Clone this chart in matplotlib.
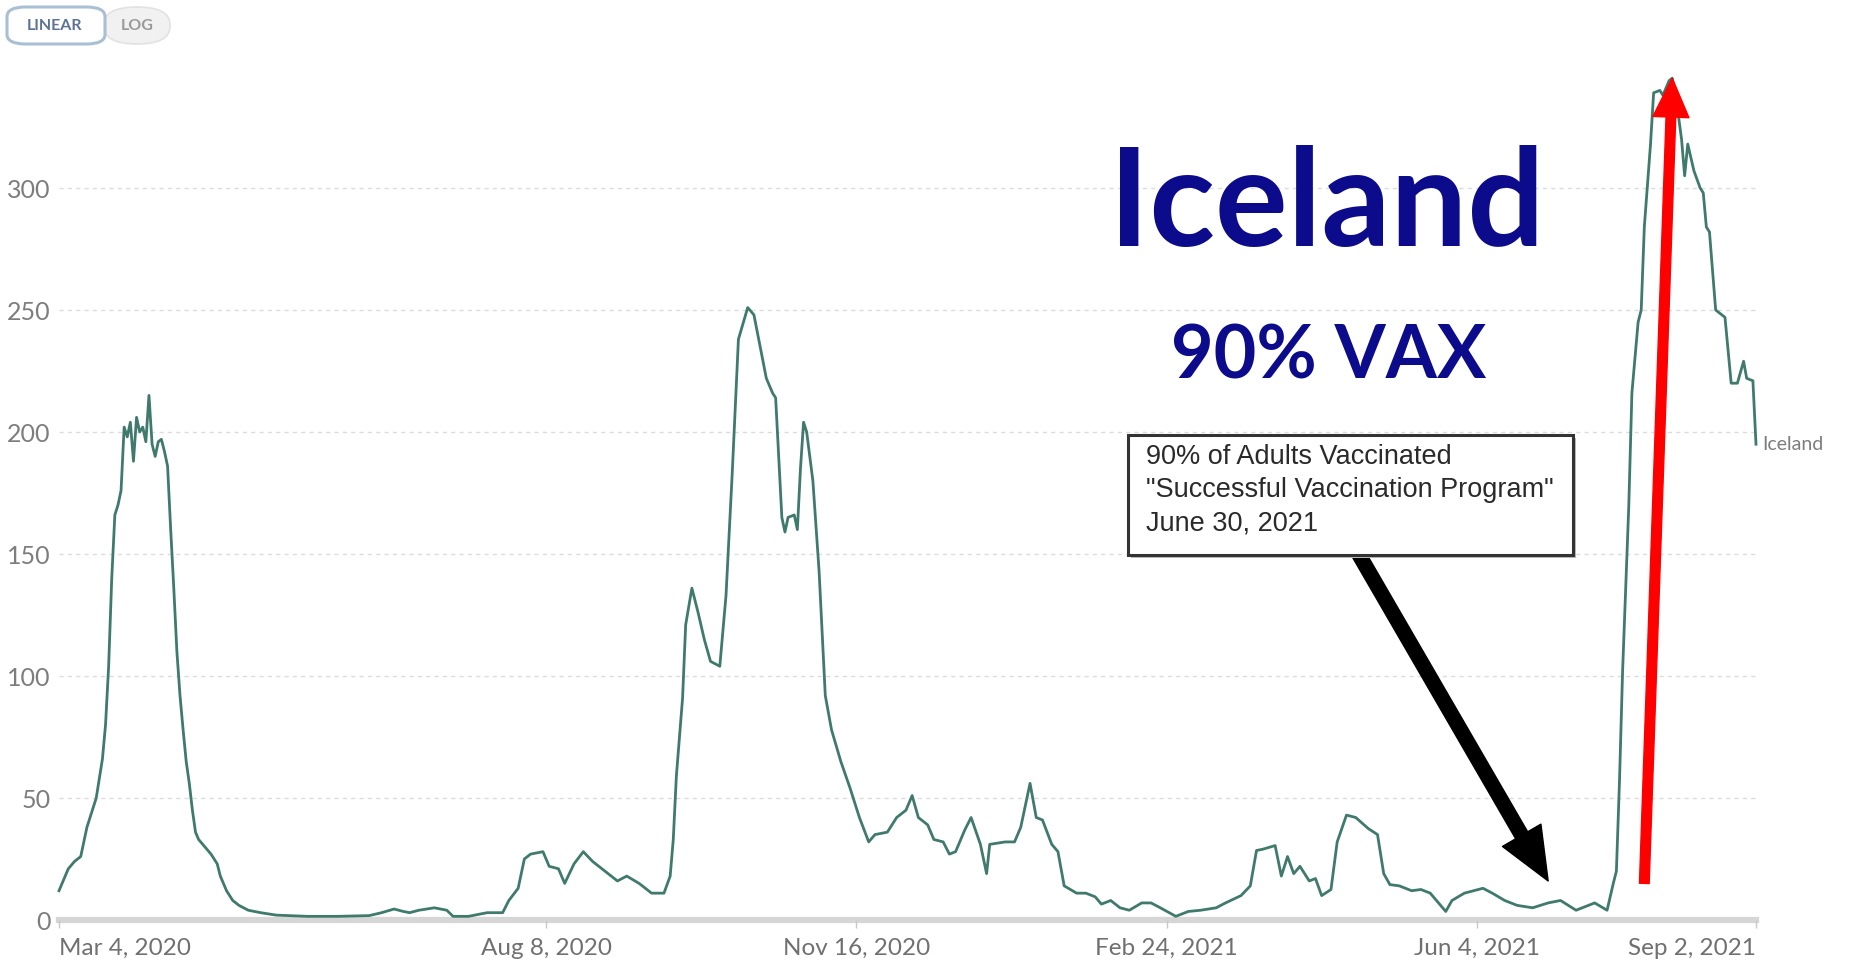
import matplotlib
matplotlib.use("Agg")
import matplotlib.pyplot as plt
import pandas as pd
from matplotlib.patches import FancyArrowPatch, FancyBboxPatch, Rectangle, ArrowStyle

# ---------------- data ----------------
start_date = "2020-03-04"
day_offsets = [0, 3, 5, 7, 9, 10, 12, 14, 15, 16, 17, 18, 19, 20, 21, 22, 23, 24, 25, 26,
               27, 28, 29, 30, 31, 32, 33, 34, 35, 36, 37, 38, 39, 40, 41, 42, 43, 44, 45, 47,
               49, 51, 52, 54, 56, 58, 61, 65, 70, 80, 90, 100, 104, 108, 111, 113, 116, 121, 125, 127,
               132, 138, 143, 145, 148, 150, 152, 156, 158, 161, 163, 166, 169, 172, 176, 180, 183, 187, 191, 195,
               197, 198, 199, 201, 202, 204, 206, 208, 210, 213, 215, 217, 219, 222, 224, 226, 228, 230, 231, 233,
               234, 235, 237, 238, 239, 240, 241, 243, 245, 247, 249, 252, 255, 258, 261, 263, 267, 270, 273, 275,
               277, 280, 282, 285, 287, 289, 292, 294, 297, 299, 300, 305, 308, 310, 313, 315, 317, 320, 322, 324,
               328, 331, 334, 336, 339, 342, 345, 349, 352, 355, 360, 364, 368, 373, 376, 381, 384, 386, 388, 392,
               394, 396, 398, 400, 403, 405, 407, 410, 412, 415, 418, 422, 425, 427, 429, 432, 436, 439, 442, 444,
               447, 449, 453, 459, 462, 466, 470, 475, 480, 484, 489, 495, 499, 501, 502, 503, 504, 506, 507, 509,
               510, 511, 513, 514, 516, 517, 519, 520, 521, 523, 524, 525, 527, 529, 530, 531, 532, 534, 536, 537,
               539, 541, 543, 544, 546, 547]
cases = [12, 21, 24, 26, 38, 42, 50, 66, 80, 104, 140, 166, 170, 176, 202, 198, 204, 188, 206, 200,
         202, 196, 215, 195, 190, 196, 197, 192, 186, 160, 136, 110, 92, 78, 65, 56, 45, 36, 33, 30,
         27, 23, 18, 12, 8, 6, 4, 3, 2, 1.5, 1.5, 1.8, 3, 4.5, 3.5, 3, 4, 5, 4, 1.5,
         1.5, 3, 3, 8, 13, 25, 27, 28, 22, 21, 15, 23, 28, 24, 20, 16, 18, 15, 11, 11,
         18, 33, 59, 91, 121, 136, 126, 115, 106, 104, 133, 183, 238, 251, 248, 235, 222, 216, 214, 165,
         159, 165, 166, 160, 185, 204, 200, 180, 143, 92, 78, 65, 54, 42, 32, 35, 36, 42, 45, 51,
         42, 39, 33, 32, 27, 28, 37, 42, 31, 19, 31, 32, 32, 38, 56, 42, 41, 31, 28, 14,
         11, 11, 9.5, 6.5, 8, 5, 4, 7, 7, 5, 1.5, 3.5, 4, 5, 7, 10, 14, 28.5, 29, 30.5,
         18, 26, 19, 22, 16, 17, 10, 12.5, 32, 43, 42, 37.5, 35, 19, 14.5, 14, 12, 12.5, 11, 8,
         3.5, 8, 11, 13, 11, 8, 6, 5, 7, 8, 4, 7, 4, 15, 20, 57, 102, 170, 216, 245,
         250, 284, 318, 339, 340, 338, 344, 345, 339, 320, 305, 318, 307, 300, 298, 284, 282, 250, 248, 247,
         220, 220, 229, 222, 221, 195]
country = "Iceland"
y_ticks = [0, 50, 100, 150, 200, 250, 300]
x_tick_dates = ["2020-03-04", "2020-08-08", "2020-11-16", "2021-02-24", "2021-06-04", "2021-09-02"]
x_tick_labels = ["Mar 4, 2020", "Aug 8, 2020", "Nov 16, 2020", "Feb 24, 2021", "Jun 4, 2021", "Sep 2, 2021"]
title_text = "Iceland"
subtitle_text = "90% VAX"
box_lines = ["90% of Adults Vaccinated", "\"Successful Vaccination Program\"", "June 30, 2021"]

dates = pd.to_datetime(start_date) + pd.to_timedelta(day_offsets, unit="D")
xt = pd.to_datetime(x_tick_dates)

W, H = 1852, 968
fig = plt.figure(figsize=(W / 100, H / 100), dpi=100)
fig.patch.set_facecolor("white")

ymax = 355
ax = fig.add_axes([59 / W, (H - 920) / H, 1697 / W, ymax * 2.44 / H])
ax.set_xlim(xt[0], xt[-1])
ax.set_ylim(0, ymax)
for s in ax.spines.values():
    s.set_visible(False)

# gridlines
for v in y_ticks[1:]:
    ax.axhline(v, color="#dcdcdc", lw=1.0, ls=(0, (3, 3)), zorder=1)
ax.axhline(0, color="#d6d6d6", lw=4.5, zorder=1, clip_on=False)

line_color = "#3f7a6c"
ax.plot(dates, cases, color=line_color, lw=2.0, zorder=3, clip_on=False)

ax.set_yticks(y_ticks)
ax.set_yticklabels([str(v) for v in y_ticks], fontsize=18, color="#7d7d7d", family="Lato")
ax.tick_params(axis="y", length=0, pad=6)

ax.set_xticks(xt)
ax.set_xticklabels(x_tick_labels, fontsize=17.5, color="#707070", family="Lato")
ax.tick_params(axis="x", length=6, width=1, color="#c8c8c8", pad=7)
lbls = ax.get_xticklabels()
lbls[0].set_horizontalalignment("left")
lbls[-1].set_horizontalalignment("right")

# end label
ax.text(dates[-1] + pd.Timedelta(days=2), cases[-1], country, fontsize=14, color="#7d7d7d",
        family="Lato", va="center", ha="left", clip_on=False)

# big titles
navy = "#0b0b8c"
fig.text(1327 / W, 1 - 207 / H, title_text, fontsize=98, fontweight="bold", color=navy,
         family="Lato", ha="center", va="center")
fig.text(1329 / W, 1 - 357 / H, subtitle_text, fontsize=53, fontweight="bold", color=navy,
         family="Lato", ha="center", va="center")

# annotation box
bx0, by0, bx1, by1 = 1128, 435, 1573, 555
fig.add_artist(Rectangle((bx0 / W + 3 / W, 1 - by1 / H - 3 / H), (bx1 - bx0) / W, (by1 - by0) / H,
                         transform=fig.transFigure, facecolor="#bbbbbb", edgecolor="none", zorder=4))
fig.add_artist(Rectangle((bx0 / W, 1 - by1 / H), (bx1 - bx0) / W, (by1 - by0) / H,
                         transform=fig.transFigure, facecolor="white", edgecolor="#333333", lw=2.2, zorder=5))
for t, yy in zip(box_lines, [457, 490, 523]):
    fig.text(1146 / W, 1 - yy / H, t, fontsize=19.5, color="#2a2a2a", family="Liberation Sans",
             ha="left", va="center", zorder=6)

# black arrow
black_arrow = FancyArrowPatch((pd.Timestamp("2021-04-26"), 152), (pd.Timestamp("2021-06-27"), 16),
                              arrowstyle=ArrowStyle.Simple(head_length=38, head_width=32, tail_width=10),
                              mutation_scale=1, color="black", shrinkA=0, shrinkB=0, zorder=7, clip_on=False)
ax.add_patch(black_arrow)
# red arrow
red_arrow = FancyArrowPatch((pd.Timestamp("2021-07-28"), 15), (pd.Timestamp("2021-08-06"), 345),
                            arrowstyle=ArrowStyle.Simple(head_length=28, head_width=26, tail_width=7),
                            mutation_scale=1, color="#ff0000", shrinkA=0, shrinkB=0, zorder=7, clip_on=False)
ax.add_patch(red_arrow)

# LINEAR / LOG toggle
fig.add_artist(FancyBboxPatch((104 / W, 1 - 44 / H), 66 / W, 37 / H, boxstyle="round,pad=0,rounding_size=0.018",
                              transform=fig.transFigure, facecolor="#f1f1f1", edgecolor="#e2e2e2", lw=1.2))
fig.add_artist(FancyBboxPatch((7 / W, 1 - 44 / H), 98 / W, 37 / H, boxstyle="round,pad=0,rounding_size=0.01",
                              transform=fig.transFigure, facecolor="white", edgecolor="#a9bfd4", lw=2.2))
fig.text(55 / W, 1 - 26 / H, "LINEAR", fontsize=11.5, fontweight="bold", color="#5b7396", family="Lato",
         ha="center", va="center")
fig.text(137 / W, 1 - 26 / H, "LOG", fontsize=11.5, fontweight="bold", color="#9a9a9a", family="Lato",
         ha="center", va="center")

fig.savefig("out.png", dpi=100, facecolor="white")
